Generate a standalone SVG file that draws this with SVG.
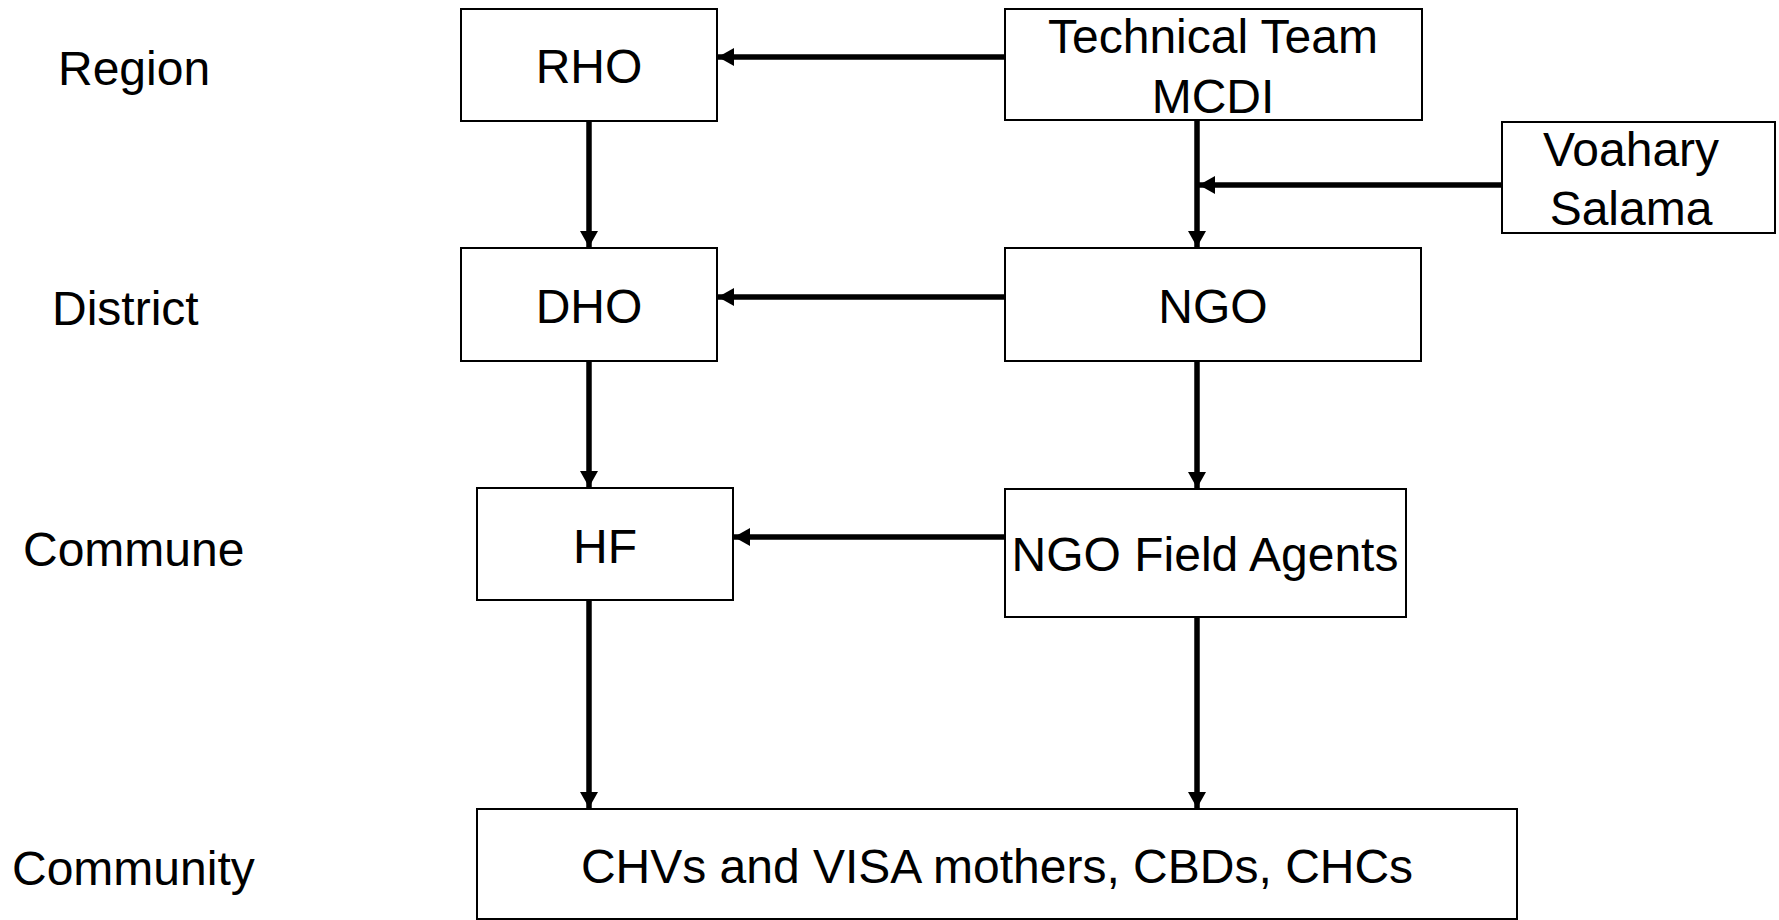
<svg xmlns="http://www.w3.org/2000/svg" width="1779" height="920" viewBox="0 0 1779 920">
<style>
  .box { fill: #ffffff; stroke: #000000; stroke-width: 2; }
  .t { font-family: "Liberation Sans", Arial, sans-serif; font-size: 48px; fill: #000000; }
  .c { text-anchor: middle; }
  .lvl { font-family: "Liberation Sans", Arial, sans-serif; font-size: 48px; fill: #000000; }
  .edge { stroke: #000000; stroke-width: 5.5; fill: none; marker-end: url(#ah); }
</style>
<defs>
  <marker id="ah" markerUnits="userSpaceOnUse" markerWidth="18" markerHeight="18" refX="16" refY="9" orient="auto">
    <path d="M0,0 L16,9 L0,18 z" fill="#000000"/>
  </marker>
</defs>
<rect width="1779" height="920" fill="#ffffff"/>

<g id="levels">
  <text class="lvl" x="58" y="85">Region</text>
  <text class="lvl" x="52" y="325">District</text>
  <text class="lvl" x="23" y="566">Commune</text>
  <text class="lvl" x="12" y="885">Community</text>
</g>

<g id="connectors">
  <line class="edge" x1="1005" y1="57" x2="718" y2="57"/>
  <line class="edge" x1="589" y1="121" x2="589" y2="247"/>
  <line class="edge" x1="1197" y1="121" x2="1197" y2="247"/>
  <line class="edge" x1="1502" y1="185" x2="1199" y2="185"/>
  <line class="edge" x1="1005" y1="297" x2="718" y2="297"/>
  <line class="edge" x1="589" y1="362" x2="589" y2="487"/>
  <line class="edge" x1="1197" y1="362" x2="1197" y2="488"/>
  <line class="edge" x1="1005" y1="537" x2="734" y2="537"/>
  <line class="edge" x1="589" y1="601" x2="589" y2="808"/>
  <line class="edge" x1="1197" y1="618" x2="1197" y2="808"/>
</g>

<g id="rho">
  <rect class="box" x="461" y="9" width="256" height="112"/>
  <text class="t c" x="589" y="83">RHO</text>
</g>
<g id="tech">
  <rect class="box" x="1005" y="9" width="417" height="111"/>
  <text class="t c" x="1213" y="53">Technical Team</text>
  <text class="t c" x="1213" y="113">MCDI</text>
</g>
<g id="voahary">
  <rect class="box" x="1502" y="122" width="273" height="111"/>
  <text class="t c" x="1631" y="166">Voahary</text>
  <text class="t c" x="1631" y="225">Salama</text>
</g>
<g id="dho">
  <rect class="box" x="461" y="248" width="256" height="113"/>
  <text class="t c" x="589" y="323">DHO</text>
</g>
<g id="ngo">
  <rect class="box" x="1005" y="248" width="416" height="113"/>
  <text class="t c" x="1213" y="323">NGO</text>
</g>
<g id="hf">
  <rect class="box" x="477" y="488" width="256" height="112"/>
  <text class="t c" x="605" y="563">HF</text>
</g>
<g id="fieldagents">
  <rect class="box" x="1005" y="489" width="401" height="128"/>
  <text class="t c" x="1205" y="571">NGO Field Agents</text>
</g>
<g id="community">
  <rect class="box" x="477" y="809" width="1040" height="110"/>
  <text class="t c" x="997" y="883">CHVs and VISA mothers, CBDs, CHCs</text>
</g>
</svg>
